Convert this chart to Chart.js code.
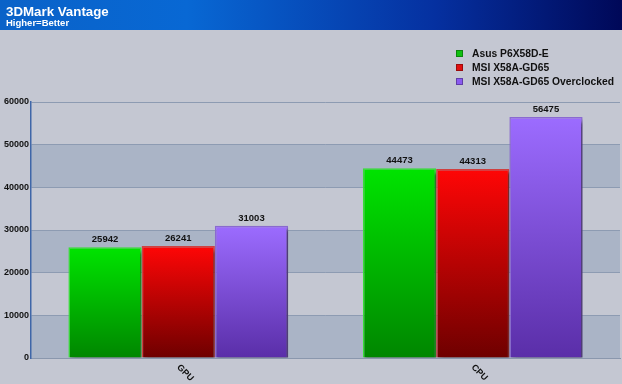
<!DOCTYPE html>
<html>
<head>
<meta charset="utf-8">
<script src="https://cdn.jsdelivr.net/npm/chart.js@4/dist/chart.umd.min.js"></script>
<style>
  html, body { margin: 0; padding: 0; background: #c4c7d2; }
  #wrap { width: 622px; height: 384px; position: relative; }
</style>
</head>
<body>
<div id="wrap"><canvas id="vantage"></canvas></div>
<script>
// data
const categories = ['GPU', 'CPU'];
const seriesNames = ['Asus P6X58D-E', 'MSI X58A-GD65', 'MSI X58A-GD65 Overclocked'];
const asusScores = [25942, 44473];
const msiScores = [26241, 44313];
const msiOcScores = [31003, 56475];
const yTicks = [0, 10000, 20000, 30000, 40000, 50000, 60000];

// colours: [top, bottom, border, legend]
const greens = ['#00e400', '#008600', '#35e035', '#10c010'];
const reds = ['#ff0606', '#6e0000', '#d04040', '#e01010'];
const purples = ['#9c6cff', '#5a2ea8', '#8a6ad0', '#8a5af0'];

const barFill = (pal) => (c) => {
    const chart = c.chart;
    const ys = chart.scales.y;
    if (!ys || c.parsed === undefined) return pal[0];
    const top = ys.getPixelForValue(c.parsed.y);
    const bot = ys.getPixelForValue(0);
    if (!isFinite(top) || !isFinite(bot) || top === bot) return pal[0];
    const g = chart.ctx.createLinearGradient(0, top, 0, bot);
    g.addColorStop(0, pal[0]);
    g.addColorStop(1, pal[1]);
    return g;
};

const makeSet = (label, data, pal) => ({
    label: label,
    data: data,
    backgroundColor: barFill(pal),
    borderColor: pal[2],
    borderWidth: 1.5,
    legendColor: pal[3],
    barPercentage: 1,
    categoryPercentage: 0.746,
});

// header, bands, legend, labels
const decor = {
    id: 'decor',
    beforeDraw(chart) {
        const { ctx, chartArea: { left, right, top, bottom } } = chart;
        const y = chart.scales.y;
        ctx.save();
        ctx.fillStyle = '#c4c7d2';
        ctx.fillRect(0, 0, chart.width, chart.height);
        // title band
        const hg = ctx.createLinearGradient(0, 0, chart.width, 0);
        hg.addColorStop(0, '#0a62c8');
        hg.addColorStop(0.3, '#0868d4');
        hg.addColorStop(0.7, '#0530a0');
        hg.addColorStop(1, '#000858');
        ctx.fillStyle = hg;
        ctx.fillRect(0, 0, chart.width, 30);
        ctx.fillStyle = '#ffffff';
        ctx.font = 'bold 13.3px "Liberation Sans", Arial, sans-serif';
        ctx.textBaseline = 'alphabetic';
        ctx.fillText('3DMark Vantage', 6, 16);
        ctx.font = 'bold 9.5px "Liberation Sans", Arial, sans-serif';
        ctx.fillText('Higher=Better', 6, 26);
        // alternating bands
        ctx.fillStyle = '#aab4c6';
        for (let i = 0; i < yTicks.length - 1; i += 2) {
            const y0 = y.getPixelForValue(yTicks[i]);
            const y1 = y.getPixelForValue(yTicks[i + 1]);
            ctx.fillRect(left, y1, right - left, y0 - y1);
        }
        ctx.restore();
    },
    beforeDatasetsDraw(chart) {
        const ctx = chart.ctx;
        ctx.save();
        ctx.shadowColor = 'rgba(0,0,0,0.45)';
        ctx.shadowOffsetX = 3;
        ctx.shadowOffsetY = 3;
        ctx.shadowBlur = 3;
    },
    afterDatasetsDraw(chart) {
        const ctx = chart.ctx;
        ctx.restore();
        ctx.save();
        ctx.fillStyle = '#111111';
        ctx.font = 'bold 9.5px "Liberation Sans", Arial, sans-serif';
        ctx.textAlign = 'center';
        ctx.textBaseline = 'bottom';
        chart.data.datasets.forEach((ds, i) => {
            chart.getDatasetMeta(i).data.forEach((bar, j) => {
                ctx.fillText(String(ds.data[j]), bar.x, bar.y - 3);
            });
        });
        // category labels, rotated
        const xs = chart.scales.x;
        ctx.font = 'bold 9px "Liberation Sans", Arial, sans-serif';
        ctx.textAlign = 'left';
        ctx.textBaseline = 'middle';
        chart.data.labels.forEach((lab, j) => {
            const px = xs.getPixelForValue(j);
            ctx.save();
            ctx.translate(px, chart.chartArea.bottom + 8);
            ctx.rotate(Math.PI / 4);
            ctx.fillText(lab, 0, 0);
            ctx.restore();
        });
        // legend
        ctx.font = 'bold 10.3px "Liberation Sans", Arial, sans-serif';
        ctx.textBaseline = 'middle';
        chart.data.datasets.forEach((ds, i) => {
            const ly = 53.5 + i * 14;
            ctx.fillStyle = ds.legendColor;
            ctx.fillRect(456, ly - 3.5, 7, 7);
            ctx.strokeStyle = 'rgba(0,0,0,0.3)';
            ctx.lineWidth = 1;
            ctx.strokeRect(456.5, ly - 3, 6, 6);
            ctx.fillStyle = '#111111';
            ctx.fillText(ds.label, 472, ly + 0.5);
        });
        ctx.restore();
    }
};

const ctx = document.getElementById('vantage');
const vantageChart = new Chart(ctx, {
    type: 'bar',
    data: {
        labels: categories,
        datasets: [
            makeSet(seriesNames[0], asusScores, greens),
            makeSet(seriesNames[1], msiScores, reds),
            makeSet(seriesNames[2], msiOcScores, purples),
        ]
    },
    options: {
        responsive: true,
        maintainAspectRatio: false,
        animation: false,
        layout: { padding: { top: 102, right: 2, left: 0, bottom: 0 } },
        plugins: {
            legend: { display: false },
            tooltip: { enabled: false },
        },
        scales: {
            x: {
                grid: { display: false },
                border: { color: '#8a97ad', width: 1 },
                ticks: { display: false },
                afterFit(scale) { scale.height = 26; },
            },
            y: {
                min: 0,
                max: 60000,
                afterBuildTicks(scale) { scale.ticks = yTicks.map(v => ({ value: v })); },
                grid: { color: '#8d9bb2', lineWidth: 1, drawTicks: false },
                border: { color: '#3f66a8', width: 1.5 },
                ticks: {
                    color: '#111111',
                    font: { family: '"Liberation Sans", Arial, sans-serif', size: 9, weight: 'bold' },
                    padding: 2,
                    callback: (v) => String(v),
                },
                afterFit(scale) { scale.width = 31; },
            }
        }
    },
    plugins: [decor]
});
</script>
</body>
</html>
